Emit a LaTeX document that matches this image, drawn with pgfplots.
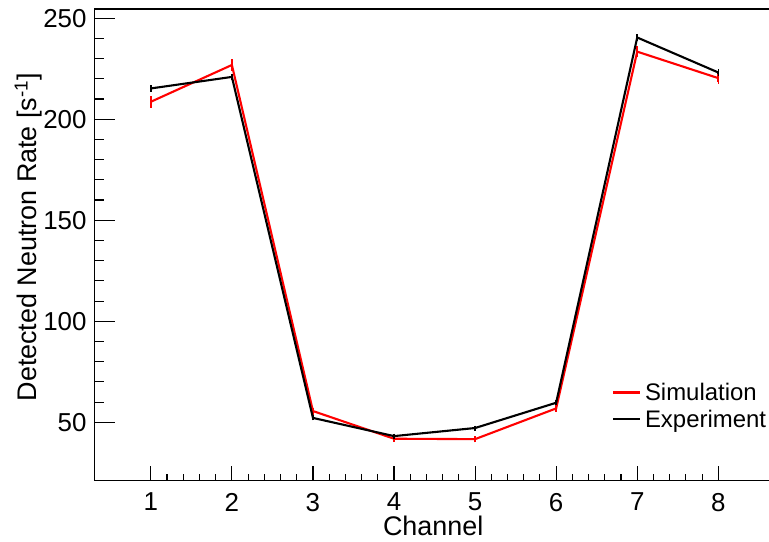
\documentclass[border=0pt]{standalone}
\usepackage{fontspec}
\setmainfont{Liberation Sans}
\usepackage{pgfplots}
\pgfplotsset{compat=1.18}
\pgfplotsset{
  base/.style={scale only axis, width=675bp, height=471bp,
    xmin=0.3, xmax=8.633, ymin=21.3, ymax=254.5,
    tick align=inside, xtick pos=bottom, ytick pos=left,
    tick style={line width=1.1bp, black},
    axis line style={line width=1.1bp},
    /pgf/number format/assume math mode=true,
    ticklabel style={font=\fontsize{26}{30}\selectfont},
  }
}
\begin{document}
\begin{tikzpicture}[font=\fontsize{26}{30}\selectfont]
\begin{axis}[base, name=ax,
  xtick=\empty, ytick={50,100,150,200,250},
  minor y tick num=4,
  major tick length=21bp, minor tick length=10bp,
  yticklabel style={xshift=-4bp},
  ylabel={Detected Neutron Rate [s\textsuperscript{-1}]},
  ylabel style={at={(axis description cs:-0.097,0.516)}, anchor=center, font=\fontsize{27}{30}\selectfont},
  legend style={draw=none, fill=none, inner sep=0pt, at={(axis description cs:0.767,0.158)}, anchor=west,
    font=\fontsize{24}{28}\selectfont, row sep=7bp, nodes={inner sep=0.5bp}},
  legend cell align=left,
  legend image code/.code={\draw[#1] (0bp,0bp) -- (27bp,0bp); \path (30bp,0bp);},
]
\addplot[red, line width=2.1bp, error bars/.cd, y dir=both, y explicit,
  error bar style={line width=2bp, red}, error mark options={line width=1.5bp, mark size=1.5bp, red}]
  coordinates {
  (1,208.6) +- (0,2.1)
  (2,226.8) +- (0,2.0)
  (3,55.6) +- (0,1.0)
  (4,41.9) +- (0,0.8)
  (5,41.7) +- (0,0.8)
  (6,56.9) +- (0,1.0)
  (7,233.4) +- (0,2.0)
  (8,220.3) +- (0,2.0)
  };
\addlegendentry{Simulation}
\addplot[black, line width=2.1bp, error bars/.cd, y dir=both, y explicit,
  error bar style={line width=2bp, black}, error mark options={line width=1.5bp, mark size=1.5bp, black}]
  coordinates {
  (1,215.2) +- (0,0.8)
  (2,220.9) +- (0,0.8)
  (3,52.2) +- (0,0.5)
  (4,43.2) +- (0,0.5)
  (5,47.2) +- (0,0.5)
  (6,59.7) +- (0,0.5)
  (7,240.4) +- (0,0.8)
  (8,223.1) +- (0,0.8)
  };
\addlegendentry{Experiment}
\end{axis}
\begin{axis}[base,
  ytick=\empty, xtick={1,...,8}, minor x tick num=4,
  major tick length=14bp, minor tick length=6bp,
  xticklabel style={yshift=-9bp},
  xlabel={Channel},
  xlabel style={at={(axis description cs:0.502,-0.096)}, anchor=center, font=\fontsize{27}{30}\selectfont},
]
\end{axis}
\pgfresetboundingbox
\path[use as bounding box] ([xshift=-94bp,yshift=-61bp]ax.south west) rectangle ([xshift=-0.6bp,yshift=9bp]ax.north east);
\end{tikzpicture}
\end{document}
